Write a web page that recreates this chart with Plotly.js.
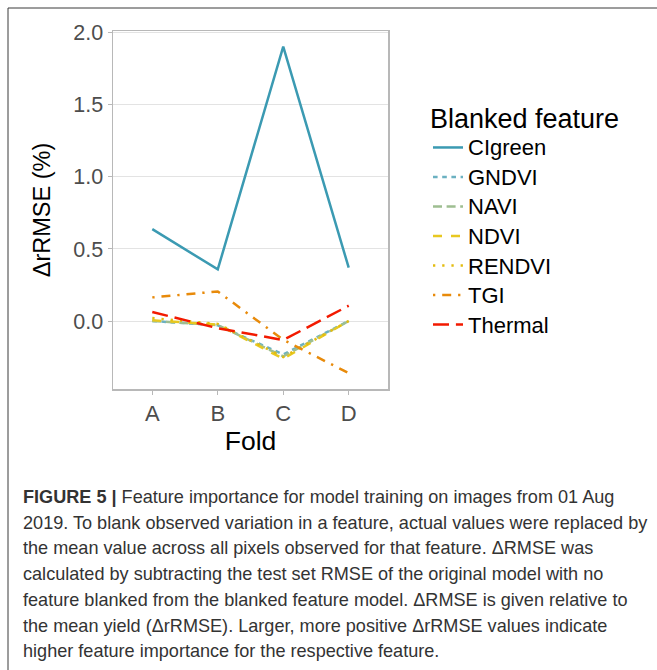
<!DOCTYPE html>
<html>
<head>
<meta charset="utf-8">
<script src="https://cdn.plot.ly/plotly-3.0.1.min.js"></script>
<style>
html,body{margin:0;padding:0;background:#fff;}
#chart{width:657px;height:670px;}
</style>
</head>
<body>
<div id="chart"></div>
<script>
// ---- data ----
const folds = ["A", "B", "C", "D"];
const features = ["CIgreen", "GNDVI", "NAVI", "NDVI", "RENDVI", "TGI", "Thermal"];
const CIgreen = [0.638, 0.358, 1.905, 0.370];
const GNDVI   = [0.000, -0.030, -0.232, 0.000];
const NAVI    = [0.000, -0.028, -0.245, 0.000];
const NDVI    = [0.005, -0.025, -0.262, 0.000];
const RENDVI  = [0.020, -0.020, -0.250, 0.000];
const TGI     = [0.164, 0.205, -0.130, -0.362];
const Thermal = [0.062, -0.050, -0.132, 0.106];
const yTicks = [0, 0.5, 1.0, 1.5, 2.0];
const captionLines = [
  "<b>FIGURE 5 |</b> Feature importance for model training on images from 01 Aug",
  "2019. To blank observed variation in a feature, actual values were replaced by",
  "the mean value across all pixels observed for that feature. ΔRMSE was",
  "calculated by subtracting the test set RMSE of the original model with no",
  "feature blanked from the blanked feature model. ΔRMSE is given relative to",
  "the mean yield (ΔrRMSE). Larger, more positive ΔrRMSE values indicate",
  "higher feature importance for the respective feature."
];

// ---- styles ----
const seriesValues = [CIgreen, GNDVI, NAVI, NDVI, RENDVI, TGI, Thermal];
const colors = ["#3B9AB2", "#6BB1C1", "#9EBE91", "#E8C820", "#E3BC10", "#E88A0A", "#F21A00"];
const dashes = ["solid", "4.6px,4.6px", "9px,4.6px", "9px,9px", "2.3px,6.9px", "2.3px,6.9px,9px,6.9px", "16px,6.9px"];

const W = 657, H = 670;
const FONT = "Liberation Sans, Arial, Helvetica, sans-serif";
const traces = features.map((f, i) => ({
  type: "scatter",
  mode: "lines",
  name: '<span style="font-size:22px">' + f + '</span>',
  x: folds,
  y: seriesValues[i],
  line: {color: colors[i], width: 2.5, dash: dashes[i]},
  hoverinfo: "x+y"
}));

const annotations = captionLines.map((t, i) => ({
  xref: "paper", yref: "paper",
  x: 21 / W, y: 1 - (497 + i * 25.7) / H,
  xanchor: "left", yanchor: "middle",
  text: t, showarrow: false, align: "left",
  font: {family: FONT, size: 18.1, color: "#333333"}
}));

const layout = {
  width: W, height: H,
  margin: {l: 0, r: 0, t: 0, b: 0},
  paper_bgcolor: "#ffffff",
  plot_bgcolor: "#ffffff",
  font: {family: FONT},
  showlegend: true,
  legend: {
    x: 428 / W, y: 1 - 90 / H, xanchor: "left", yanchor: "top",
    title: {text: '<span style="font-size:27px">Blanked feature</span>', font: {size: 29, color: "#000"}},
    font: {size: 20.4, color: "#000"},
    itemwidth: 30,
    tracegroupgap: 0,
    bgcolor: "rgba(0,0,0,0)"
  },
  xaxis: {
    domain: [113 / W, 388 / W],
    type: "category",
    categoryarray: folds,
    range: [-0.6, 3.6],
    showgrid: false,
    zeroline: false,
    showline: true, mirror: true, linecolor: "#b8b8b8", linewidth: 1.5,
    ticks: "outside", ticklen: 4, tickcolor: "#b8b8b8", tickwidth: 1,
    tickfont: {size: 22, color: "#4d4d4d"},
    title: {text: "Fold", font: {size: 26.5, color: "#000"}, standoff: 4}
  },
  yaxis: {
    domain: [1 - 389 / H, 1 - 31 / H],
    range: [-0.472, 2.013],
    tickvals: yTicks,
    tickformat: ".1f",
    showgrid: true, gridcolor: "#e3e3e3", gridwidth: 1,
    zeroline: false,
    showline: true, mirror: true, linecolor: "#b8b8b8", linewidth: 1.5,
    ticks: "outside", ticklen: 4, tickcolor: "#b8b8b8", tickwidth: 1,
    tickfont: {size: 21.5, color: "#4d4d4d"},
    title: {text: "ΔrRMSE (%)", font: {size: 23.5, color: "#000"}, standoff: 16}
  },
  shapes: [{
    type: "rect", xref: "paper", yref: "paper",
    x0: 8 / W, x1: 1.02, y0: -0.02, y1: 1 - 8 / H,
    line: {color: "#3a3a3a", width: 1}
  }],
  annotations: annotations
};

Plotly.newPlot("chart", traces, layout, {displayModeBar: false, staticPlot: true});
</script>
</body>
</html>
